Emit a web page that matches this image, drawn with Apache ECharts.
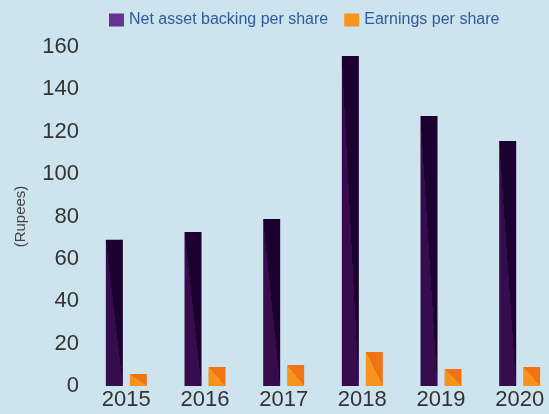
<!DOCTYPE html>
<html>
<head>
<meta charset="utf-8">
<script src="https://cdn.jsdelivr.net/npm/echarts@6/dist/echarts.min.js"></script>
<style>
  html, body { margin: 0; padding: 0; background: #cde3ee; }
  #chart { width: 549px; height: 414px; }
</style>
</head>
<body>
<div id="chart"></div>
<script>
// data
const years = ['2015', '2016', '2017', '2018', '2019', '2020']
const netAssetBacking = [69, 72.7, 78.8, 155.7, 127.4, 115.6]
const earnings = [5.7, 9, 9.9, 16, 8, 9]
const yTicks = { min: 0, max: 160, interval: 20 }

const barW = 17
const purple = { light: '#360c4e', dark: '#1b0030', legend: '#673391' }
const orange = { light: '#f7941e', dark: '#f07316', legend: '#f7941e' }
const font = "'Liberation Sans', Arial, Helvetica, sans-serif"

const chart = echarts.init(document.getElementById('chart'))

const option = {
  backgroundColor: '#cde3ee',
  animation: false,
  legend: {
    left: 104,
    top: 7,
    itemWidth: 15,
    itemHeight: 13,
    itemGap: 16,
    icon: 'rect',
    textStyle: { color: '#2d5b9b', fontSize: 16, fontFamily: font },
    data: [
      { name: 'Net asset backing per share', itemStyle: { color: purple.legend } },
      { name: 'Earnings per share', itemStyle: { color: orange.legend } }
    ]
  },
  // plot area runs a little past the right edge, as in the reference
  grid: { left: 87, width: 472, top: 47, bottom: 28, containLabel: false, outerBoundsMode: 'none' },
  xAxis: {
    type: 'category',
    data: years,
    axisLine: { show: false },
    axisTick: { show: false },
    axisLabel: { color: '#333', fontSize: 22, fontFamily: font, margin: 3 }
  },
  yAxis: {
    type: 'value',
    min: yTicks.min,
    max: yTicks.max,
    interval: yTicks.interval,
    name: '(Rupees)',
    nameLocation: 'middle',
    nameRotate: 90,
    nameGap: 59,
    nameTextStyle: { color: '#444', fontSize: 15, fontFamily: font },
    axisLine: { show: false },
    axisTick: { show: false },
    splitLine: { show: false },
    axisLabel: { color: '#333', fontSize: 22, fontFamily: font, margin: 8 }
  },
  series: [
    {
      name: 'Net asset backing per share',
      type: 'bar',
      barWidth: barW,
      barGap: '41%',
      itemStyle: { color: purple.legend },
      data: netAssetBacking
    },
    {
      name: 'Earnings per share',
      type: 'bar',
      barWidth: barW,
      itemStyle: { color: orange.legend },
      data: earnings
    }
  ]
}
chart.setOption(option)

// two-tone fill split along the bar's diagonal (top-left to bottom-right)
function diagColor (v, c) {
  const h = chart.convertToPixel({ yAxisIndex: 0 }, 0) - chart.convertToPixel({ yAxisIndex: 0 }, v)
  const a = 0.5 * h / barW
  const b = 0.5 * barW / h
  return new echarts.graphic.LinearGradient(0.5 - a, 0.5 + b, 0.5 + a, 0.5 - b, [
    { offset: 0, color: c.light },
    { offset: 0.5, color: c.light },
    { offset: 0.5, color: c.dark },
    { offset: 1, color: c.dark }
  ])
}

chart.setOption({
  series: [
    { data: netAssetBacking.map(v => ({ value: v, itemStyle: { color: diagColor(v, purple) } })) },
    { data: earnings.map(v => ({ value: v, itemStyle: { color: diagColor(v, orange) } })) }
  ]
})
</script>
</body>
</html>
